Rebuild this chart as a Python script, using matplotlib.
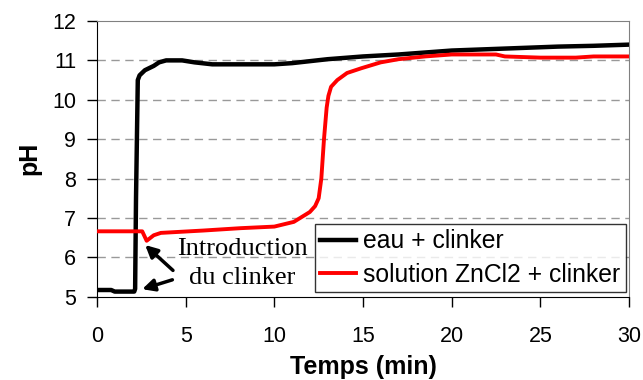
import matplotlib
matplotlib.use('Agg')
from matplotlib import pyplot as plt

# black curve: eau + clinker
t_eau = [0, 0.8, 1.0, 2.1, 2.15, 2.2, 2.3, 2.4, 2.7, 3.2, 3.5, 3.9, 4.8, 5.5, 6.5, 8.0,
         10.0, 11.0, 12.0, 13.0, 15.0, 17.0, 20.0, 23.0, 26.0, 28.0, 30.0]
ph_eau = [5.17, 5.17, 5.13, 5.13, 5.2, 7.5, 10.5, 10.62, 10.75, 10.86, 10.95, 11.0, 11.0, 10.95,
          10.9, 10.9, 10.9, 10.93, 10.98, 11.03, 11.1, 11.15, 11.25, 11.3, 11.35, 11.37, 11.4]

# red curve: solution ZnCl2 + clinker
t_zn = [0, 2.55, 2.8, 3.2, 3.6, 6.0, 8.1, 10.0, 11.1, 12.0, 12.3, 12.5, 12.65, 12.8, 12.95,
        13.05, 13.2, 13.55, 14.1, 14.9, 16.0, 17.0, 18.5, 20.0, 22.5, 23.0, 25.0, 27.0, 28.0, 30.0]
ph_zn = [6.66, 6.66, 6.42, 6.56, 6.62, 6.68, 6.74, 6.78, 6.9, 7.15, 7.3, 7.5, 8.0, 9.0, 9.8,
         10.1, 10.33, 10.5, 10.68, 10.8, 10.95, 11.03, 11.1, 11.15, 11.15, 11.1, 11.07, 11.07,
         11.1, 11.1]

labels = ['eau + clinker', 'solution ZnCl2 + clinker']
annot_text = 'Introduction\ndu clinker'

plt.rcParams['font.family'] = ['Liberation Sans', 'DejaVu Sans']

fig = plt.figure(figsize=(6.43, 3.8), dpi=100)
ax = fig.add_axes([97 / 643, 1 - 296.7 / 380, 532 / 643, (296.7 - 21) / 380])

# dashed grid
for y in range(6, 12):
    ax.axhline(y, color='#999999', lw=1.0, ls=(0, (6, 4)), zorder=1)

ax.plot(t_eau, ph_eau, color='black', lw=3.2, label=labels[0], zorder=3)
ax.plot(t_zn, ph_zn, color='#ff0000', lw=2.8, label=labels[1], zorder=3)

ax.set_xlim(0, 30)
ax.set_ylim(5, 12)
ax.set_xticks(range(0, 31, 5))
ax.set_yticks(range(5, 13))

for s in ['top', 'right']:
    ax.spines[s].set_color('#808080')
for s in ['left', 'bottom']:
    ax.spines[s].set_color('black')
ax.tick_params(direction='out', length=7, width=1, labelsize=15.5)
ax.tick_params(axis='y', pad=8)
ax.tick_params(axis='x', pad=14)

ax.set_xlabel('Temps (min)', fontsize=18, fontweight='bold', labelpad=6)
ax.set_ylabel('pH', fontsize=18, fontweight='bold', labelpad=8)

# annotation with two arrows
ax.text(8.2, 5.84, annot_text, family=['Liberation Serif'], fontsize=19,
        ha='center', va='center', linespacing=1.4, zorder=4)
arrow = dict(arrowstyle='-|>', color='black', lw=2.5, mutation_scale=18)
ax.annotate('', xy=(2.6, 6.36), xytext=(4.4, 5.62), arrowprops=arrow, zorder=4)
ax.annotate('', xy=(2.4, 5.17), xytext=(4.4, 5.45), arrowprops=arrow, zorder=4)

leg = ax.legend(loc='lower right', bbox_to_anchor=((626 - 97) / 532, (296.7 - 292) / 275.7),
                fontsize=17.8, frameon=True, fancybox=False, handlelength=1.45,
                handletextpad=0.3, borderpad=0.22, labelspacing=0.38, borderaxespad=0)
leg.get_frame().set_edgecolor('black')
leg.get_frame().set_linewidth(1.0)
leg.set_zorder(5)

fig.savefig('out.png', dpi=100)
